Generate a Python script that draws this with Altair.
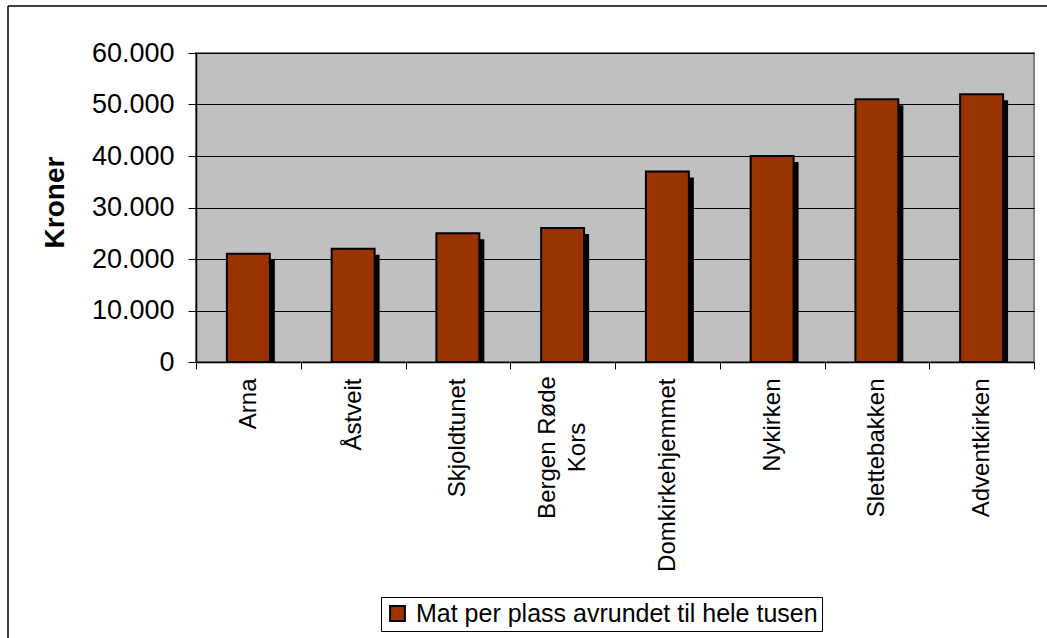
import altair as alt
import pandas as pd

categories = ["Arna", "Åstveit", "Skjoldtunet", "Bergen Røde Kors",
              "Domkirkehjemmet", "Nykirken", "Slettebakken", "Adventkirken"]
values = [21000, 22000, 25000, 26000, 37000, 40000, 51000, 52000]
series_name = "Mat per plass avrundet til hele tusen"
y_ticks = [0, 10000, 20000, 30000, 40000, 50000, 60000]

df = pd.DataFrame({"sted": categories, "kroner": values, "serie": [series_name] * len(categories)})

FONT = "Liberation Sans"
WRAPPED = "Bergen Røde Kors"
is_wrapped = f"datum.value == '{WRAPPED}'"

x_label_expr = f"{is_wrapped} ? ['Bergen Røde', 'Kors'] : datum.value"

x_enc = alt.X(
    "sted:N", sort=categories,
    scale=alt.Scale(paddingInner=0, paddingOuter=0),
    axis=alt.Axis(
        title=None, labelAngle=270, tickBand="extent", labelExpr=x_label_expr,
        labelFont=FONT, labelFontSize=24, labelColor="black", labelLineHeight=30,
        labelAlign={"condition": {"test": is_wrapped, "value": "center"}, "value": "right"},
        labelPadding={"condition": {"test": is_wrapped, "value": 78}, "value": 9},
        labelOffset={"condition": {"test": is_wrapped, "value": -15}, "value": 0},
        tickSize=7, tickColor="black", domainColor="black",
        domainWidth=1.5, labelLimit=0, grid=False,
    ),
)
y_enc = alt.Y(
    "kroner:Q",
    scale=alt.Scale(domain=[0, 60000], nice=False),
    axis=alt.Axis(
        values=y_ticks,
        labelExpr="replace(format(datum.value, ',d'), ',', '.')",
        labelFont=FONT, labelFontSize=27, labelColor="black", labelPadding=14,
        tickSize=8, tickColor="black", domainColor="black", domainWidth=1.5,
        grid=True, gridColor="black", gridWidth=1,
        title="Kroner", titleFont=FONT, titleFontSize=28, titleFontWeight="bold",
        titleColor="black", titleAngle=270, titleX=-141, titleY=149,
        titleAlign="center", titleBaseline="middle",
    ),
)

base = alt.Chart(df).encode(x=x_enc, y=y_enc)

shadow = base.mark_bar(
    color="black", xOffset=5, yOffset=6, clip=True,
    width=alt.RelativeBandSize(0.41),
)

bars = base.mark_bar(
    stroke="black", strokeWidth=2, width=alt.RelativeBandSize(0.41),
).encode(
    color=alt.Color(
        "serie:N",
        scale=alt.Scale(range=["#993300"]),
        legend=alt.Legend(
            title=None, orient="none", legendX=185, legendY=544,
            fillColor="white", strokeColor="black", padding=4,
            symbolType="square", symbolSize=220, symbolStrokeColor="black",
            symbolStrokeWidth=2, symbolOpacity=1, symbolFillColor="#993300",
            labelFont=FONT, labelFontSize=25, labelColor="black",
            labelOffset=6, labelLimit=0,
        ),
    )
)

frame_df = pd.DataFrame({"k": [0]})
left_border = alt.Chart(frame_df).mark_rule(color="black", strokeWidth=1.5).encode(
    x=alt.value(-188), y=alt.value(-47), y2=alt.value(600)
)
top_border = alt.Chart(frame_df).mark_rule(color="black", strokeWidth=1.5).encode(
    x=alt.value(-188), x2=alt.value(900), y=alt.value(-47)
)

chart = alt.layer(shadow, bars, left_border, top_border).properties(
    width=838, height=309,
    autosize=alt.AutoSizeParams(type="none"),
    padding={"left": 196, "top": 53, "right": 13, "bottom": 276},
    background="white",
).configure_view(
    fill="#C0C0C0", stroke="#808080", strokeWidth=2,
)

chart.save("out.html", embed_options={"renderer": "svg", "actions": False})
